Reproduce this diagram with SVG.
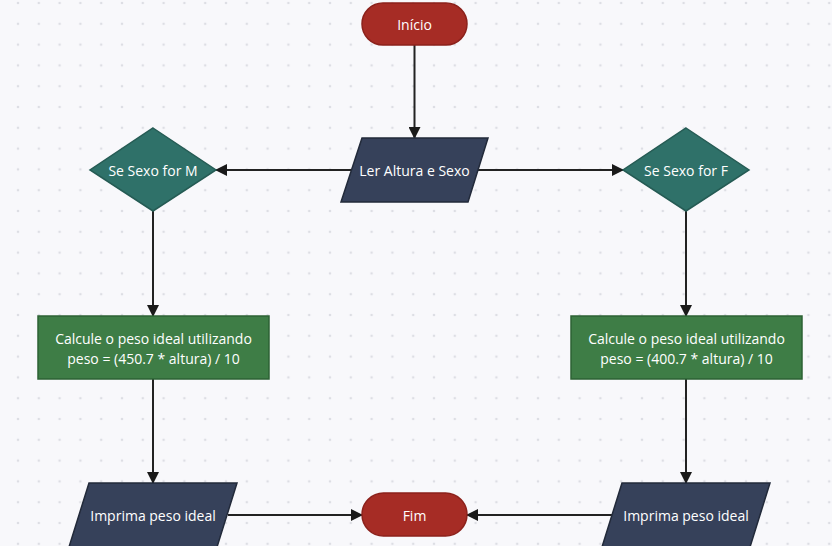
<svg xmlns="http://www.w3.org/2000/svg" width="832" height="546" viewBox="0 0 832 546">
<style>
.t{font-family:"Open Sans","Noto Sans",sans-serif;font-size:14px;fill:#ffffff;text-anchor:middle;dominant-baseline:central}
.term{fill:#a62c25;stroke:#8c211b;stroke-width:1.5}
.io{fill:#36415a;stroke:#222a3a;stroke-width:1.5}
.dec{fill:#2f7169;stroke:#255b54;stroke-width:1.5}
.proc{fill:#3e7d46;stroke:#2d6234;stroke-width:1.5}
.c{fill:none;stroke:#222222;stroke-width:2;marker-end:url(#ah)}
</style>
<defs>
<pattern id="dots" x="18" y="3" width="20.8" height="20.8" patternUnits="userSpaceOnUse">
<circle cx="0" cy="0" r="1.3" fill="#dddee4"/>
<circle cx="20.8" cy="0" r="1.3" fill="#dddee4"/>
<circle cx="0" cy="20.8" r="1.3" fill="#dddee4"/>
<circle cx="20.8" cy="20.8" r="1.3" fill="#dddee4"/>
</pattern>
<marker id="ah" markerWidth="12" markerHeight="12" refX="11" refY="6" orient="auto" markerUnits="userSpaceOnUse">
<path d="M0,0 L12,6 L0,12 Z" fill="#1a1a1a"/>
</marker>
</defs>
<rect width="832" height="546" fill="#f8f8fb"/>
<rect width="832" height="546" fill="url(#dots)"/>
<g id="connectors">
<line class="c" x1="414.5" y1="45" x2="414.5" y2="138"/>
<line class="c" x1="352" y1="170" x2="216" y2="170"/>
<line class="c" x1="478" y1="170" x2="623" y2="170"/>
<line class="c" x1="153" y1="211" x2="153" y2="316"/>
<line class="c" x1="686" y1="211" x2="686" y2="316"/>
<line class="c" x1="153" y1="379" x2="153" y2="483"/>
<line class="c" x1="686" y1="379" x2="686" y2="483"/>
<line class="c" x1="228" y1="515" x2="362" y2="515"/>
<line class="c" x1="612" y1="515" x2="467" y2="515"/>
</g>
<g id="inicio">
<rect class="term" x="362" y="3" width="105" height="42" rx="21"/>
<text class="t" x="414.5" y="24">Início</text>
</g>
<g id="ler">
<polygon class="io" points="362,138 488,138 468,202 341,202"/>
<text class="t" x="414.5" y="170">Ler Altura e Sexo</text>
</g>
<g id="seM">
<polygon class="dec" points="153,128 216,170 153,211 90,170"/>
<text class="t" x="153" y="170">Se Sexo for M</text>
</g>
<g id="seF">
<polygon class="dec" points="686,128 749,170 686,211 623,170"/>
<text class="t" x="686" y="170">Se Sexo for F</text>
</g>
<g id="calcM">
<rect class="proc" x="38" y="316" width="231" height="63"/>
<text class="t" x="153.5" y="338">Calcule o peso ideal utilizando</text>
<text class="t" x="153.5" y="358">peso = (450.7 * altura) / 10</text>
</g>
<g id="calcF">
<rect class="proc" x="571" y="316" width="231" height="63"/>
<text class="t" x="686.5" y="338">Calcule o peso ideal utilizando</text>
<text class="t" x="686.5" y="358">peso = (400.7 * altura) / 10</text>
</g>
<g id="imprimeM">
<polygon class="io" points="89,483 237,483 217,547 69,547"/>
<text class="t" x="153" y="515">Imprima peso ideal</text>
</g>
<g id="fim">
<rect class="term" x="362" y="493" width="105" height="43" rx="21.5"/>
<text class="t" x="414.5" y="515">Fim</text>
</g>
<g id="imprimeF">
<polygon class="io" points="622,483 770,483 750,547 602,547"/>
<text class="t" x="686" y="515">Imprima peso ideal</text>
</g>
</svg>
